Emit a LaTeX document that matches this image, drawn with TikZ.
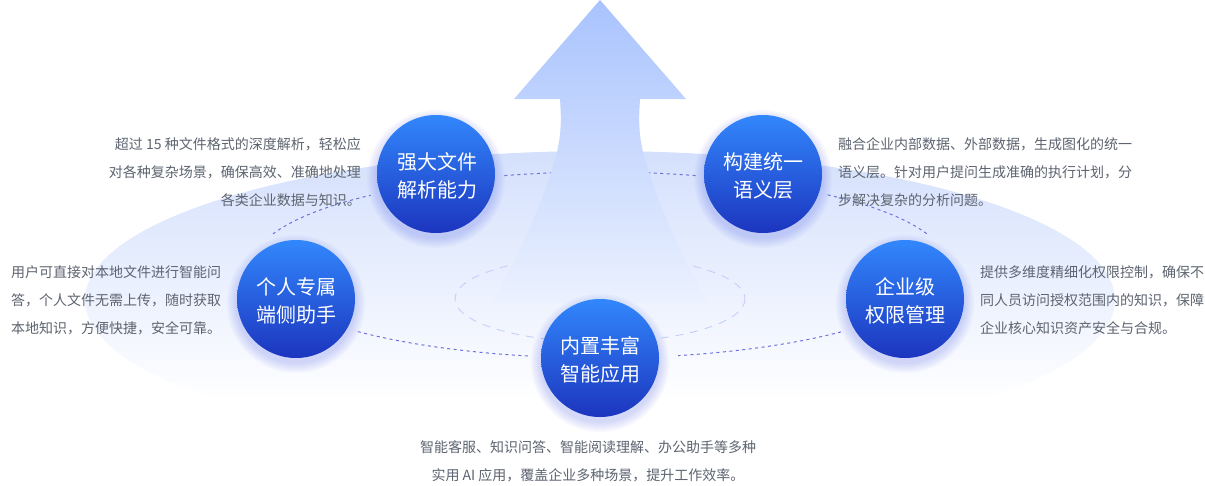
\documentclass[tikz,border=0pt]{standalone}
\usepackage{fontspec}
\setmainfont{Noto Sans CJK SC}
\definecolor{desc}{HTML}{5D6470}
\definecolor{halotop}{HTML}{D4E0FC}
\definecolor{halomid}{HTML}{EDF2FE}
\definecolor{arrowtop}{HTML}{A9C3FE}
\definecolor{arrowbot}{HTML}{EBF1FE}
\definecolor{balltop}{HTML}{3287FC}
\definecolor{ballbot}{HTML}{1C35BE}
\definecolor{orbit}{HTML}{6A70DE}
\definecolor{innerorbit}{HTML}{C6CEFA}
\definecolor{glowc}{HTML}{3C50E6}
\pgfdeclareverticalshading{halofade}{100bp}{color(0bp)=(white); color(33bp)=(white); color(50bp)=(halomid); color(75bp)=(halotop); color(100bp)=(halotop)}
\tikzset{
  bubble/.style={circle,minimum size=118pt,inner sep=0pt,top color=balltop,bottom color=ballbot},
  bubbletext/.style={text=white,align=center,inner sep=0pt,font=\fontsize{20}{28}\selectfont,yshift=-2pt},
  descr/.style={text=desc,inner sep=0pt,font=\fontsize{14}{28}\selectfont},
  orbitline/.style={orbit,line width=1pt,dash pattern=on 3pt off 3.5pt},
}
\newcommand{\glowat}[2]{\foreach \r in {60,61.5,...,69}{\fill[glowc,opacity=0.032] (#1,#2+5) circle[radius=\r];}}
\newcommand{\orbitarc}[2]{\draw[orbitline] plot[domain=#1:#2,samples=40] ({600+347*cos(\x)},{265+93*sin(\x)});}
\begin{document}
\begin{tikzpicture}[x=1pt,y=-1pt]
\useasboundingbox (0,0) rectangle (1205,485);
\fill[white] (0,0) rectangle (1205,485);
% halo
\shade[shading=halofade] (600,300) ellipse[x radius=515,y radius=149];
% orbits behind arrow
\draw[innerorbit,line width=0.9pt,dash pattern=on 8pt off 7pt] (600,299) ellipse[x radius=145,y radius=43];
\orbitarc{254}{286}
% arrow
\shade[top color=arrowtop,bottom color=arrowbot]
  (600,0) -- (686,99) -- (640,99)
  .. controls (639,115) and (638,130) .. (643,152)
  .. controls (654,195) and (680,255) .. (708,302)
  -- (492,302)
  .. controls (520,255) and (546,195) .. (557,152)
  .. controls (562,130) and (561,115) .. (560,99)
  -- (514,99) -- cycle;
% glows
\glowat{436}{174}
\glowat{763}{174}
\glowat{296}{299}
\glowat{905}{299}
\glowat{600}{358}
% remaining orbit arcs
\orbitarc{199.5}{228.6}
\orbitarc{311}{340.5}
\orbitarc{102}{135}
\orbitarc{46}{77}
% bubbles
\node[bubble] (parse) at (436,174) {};
\node[bubble] (sem) at (763,174) {};
\node[bubble] (personal) at (296,299) {};
\node[bubble] (perm) at (905,299) {};
\node[bubble] (apps) at (600,358) {};
\node[bubbletext,xshift=1.5pt] (tparse) at (parse) {强大文件\\解析能力};
\node[bubbletext,xshift=0.5pt] (tsem) at (sem) {构建统一\\语义层};
\node[bubbletext,xshift=0.5pt] (tpersonal) at (personal) {个人专属\\端侧助手};
\node[bubbletext] (tperm) at (perm) {企业级\\权限管理};
\node[bubbletext] (tapps) at (apps) {内置丰富\\智能应用};
% descriptions
\node[descr,anchor=east,align=right] (dparse) at (361,172) {超过 15 种文件格式的深度解析，轻松应\\对各种复杂场景，确保高效、准确地处理\\各类企业数据与知识。};
\node[descr,anchor=west,align=left] (dsem) at (838,172) {融合企业内部数据、外部数据，生成图化的统一\\语义层。针对用户提问生成准确的执行计划，分\\步解决复杂的分析问题。};
\node[descr,anchor=west,align=left] (dpersonal) at (11,300) {用户可直接对本地文件进行智能问\\答，个人文件无需上传，随时获取\\本地知识，方便快捷，安全可靠。};
\node[descr,anchor=west,align=left] (dperm) at (980,300) {提供多维度精细化权限控制，确保不\\同人员访问授权范围内的知识，保障\\企业核心知识资产安全与合规。};
\node[descr,align=center] (dapps) at (588,461) {智能客服、知识问答、智能阅读理解、办公助手等多种\\实用 AI 应用，覆盖企业多种场景，提升工作效率。};
\end{tikzpicture}
\end{document}
